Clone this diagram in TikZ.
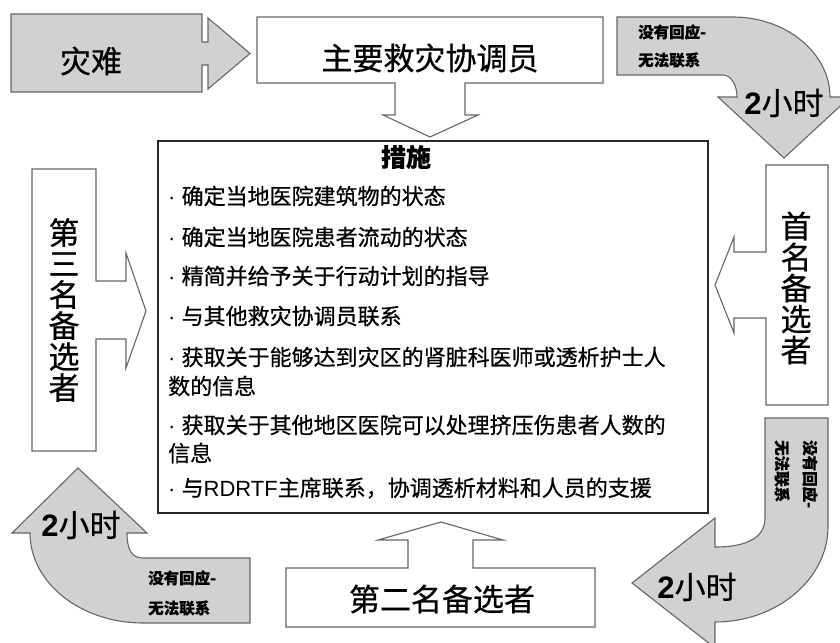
\documentclass[tikz,border=0pt]{standalone}
\usepackage{fontspec}
\setmainfont{Noto Sans CJK SC}[FakeBold=0.6]
\newfontfamily\lat{Liberation Sans}
\tikzset{
 grayarrow/.style={fill=black!18, draw=black!60, line width=1.1bp, line join=miter},
 whitearrow/.style={fill=white, draw=black!60, line width=1.1bp, line join=miter},
 mainbox/.style={draw=black!85, line width=2bp},
 big/.style={font=\fontsize{31bp}{31bp}\selectfont, inner sep=0, align=center},
 item/.style={font=\fontsize{22bp}{26bp}\selectfont, anchor=west, inner sep=0},
 small/.style={font=\fontsize{15.5bp}{18bp}\selectfont\bfseries, anchor=west, inner sep=0},
 hours/.style={font=\fontsize{31bp}{31bp}\selectfont, inner sep=0},
}
\newcommand{\hrs}{{\lat\bfseries 2}小时}
\newcommand{\dotb}{{\lat · }}
\begin{document}
\begin{tikzpicture}[x=1bp,y=-1bp]
\useasboundingbox (0,0) rectangle (840,643);
\clip (0,0) rectangle (840,643);
% disaster arrow
\draw[grayarrow] (11,14) -- (202,14) -- (202,42) -- (208,42) -- (208,18) -- (250,53.5) -- (208,89) -- (208,65) -- (202,65) -- (202,92) -- (11,92) -- cycle;
\node[big] (disaster) at (91,61) {灾难};
% main coordinator
\draw[whitearrow] (257,17) -- (603,17) -- (603,83) -- (465,83) -- (465,115) -- (478,115) -- (430,137) -- (383,115) -- (395,115) -- (395,83) -- (257,83) -- cycle;
\node[big] (coord) at (430,58) {主要救灾协调员};
% main box
\draw[mainbox] (158,141) rectangle (708,513);
\node[font=\fontsize{25bp}{25bp}\selectfont\bfseries, inner sep=0] (title) at (406,157) {措施};
\node[item] (i1) at (168,196) {\dotb 确定当地医院建筑物的状态};
\node[item] (i2) at (168,237) {\dotb 确定当地医院患者流动的状态};
\node[item] (i3) at (168,276) {\dotb 精简并给予关于行动计划的指导};
\node[item] (i4) at (168,316) {\dotb 与其他救灾协调员联系};
\node[item] (i5a) at (168,357) {\dotb 获取关于能够达到灾区的肾脏科医师或透析护士人};
\node[item] (i5b) at (168,386) {数的信息};
\node[item] (i6a) at (168,425) {\dotb 获取关于其他地区医院可以处理挤压伤患者人数的};
\node[item] (i6b) at (168,453) {信息};
\node[item] (i7) at (168,488) {\dotb 与{\lat RDRTF}主席联系，协调透析材料和人员的支援};
% third alternate (left)
\draw[whitearrow] (32,169) -- (96,169) -- (96,281) -- (126,281) -- (126,253) -- (146,311) -- (126,368) -- (126,339) -- (96,339) -- (96,451) -- (32,451) -- cycle;
\node[big] (third) at (64,310) {第\\三\\名\\备\\选\\者};
% first alternate (right)
\draw[whitearrow] (766,165) -- (828,165) -- (828,405) -- (766,405) -- (766,318) -- (734,318) -- (734,333) -- (715,285) -- (734,237) -- (734,252) -- (766,252) -- cycle;
\node[big] (first) at (796,288) {首\\名\\备\\选\\者};
% second alternate (bottom)
\draw[whitearrow] (286,568) -- (408,568) -- (408,540) -- (378,540) -- (441,522) -- (503,540) -- (473,540) -- (473,568) -- (595,568) -- (595,627) -- (286,627) -- cycle;
\node[big] (second) at (442,599) {第二名备选者};
% top-right curved arrow
\draw[grayarrow] (617,17) -- (733,17) .. controls (786,17) and (830,53) .. (830,97) -- (850,97) -- (784,158) -- (718,97) -- (737,97) .. controls (737,85) and (731,75) .. (723,75) -- (617,75) -- cycle;
\node[small] (tr1) at (638,32) {没有回应-};
\node[small] (tr2) at (638,60) {无法联系};
\node[hours] (tr3) at (784,103) {\hrs};
% bottom-right curved arrow
\draw[grayarrow] (765,418) -- (828,418) -- (828,527) .. controls (828,578) and (778,622) .. (715,622) -- (715,648) -- (632,583) -- (715,518) -- (715,547) .. controls (748,547) and (765,537) .. (765,518) -- cycle;
\node[small, rotate=-90] (br1) at (810,440) {没有回应-};
\node[small, rotate=-90] (br2) at (782,440) {无法联系};
\node[hours] (br3) at (697,587) {\hrs};
% bottom-left curved arrow
\draw[grayarrow] (78,468) -- (147,533) -- (127,533) .. controls (127,550) and (132,558) .. (143,558) -- (250,558) -- (250,623) -- (143,623) .. controls (81,623) and (30,583) .. (30,533) -- (12,533) -- cycle;
\node[hours] (bl3) at (81,525) {\hrs};
\node[small] (bl1) at (148,578) {没有回应-};
\node[small] (bl2) at (148,608) {无法联系};
\end{tikzpicture}
\end{document}
